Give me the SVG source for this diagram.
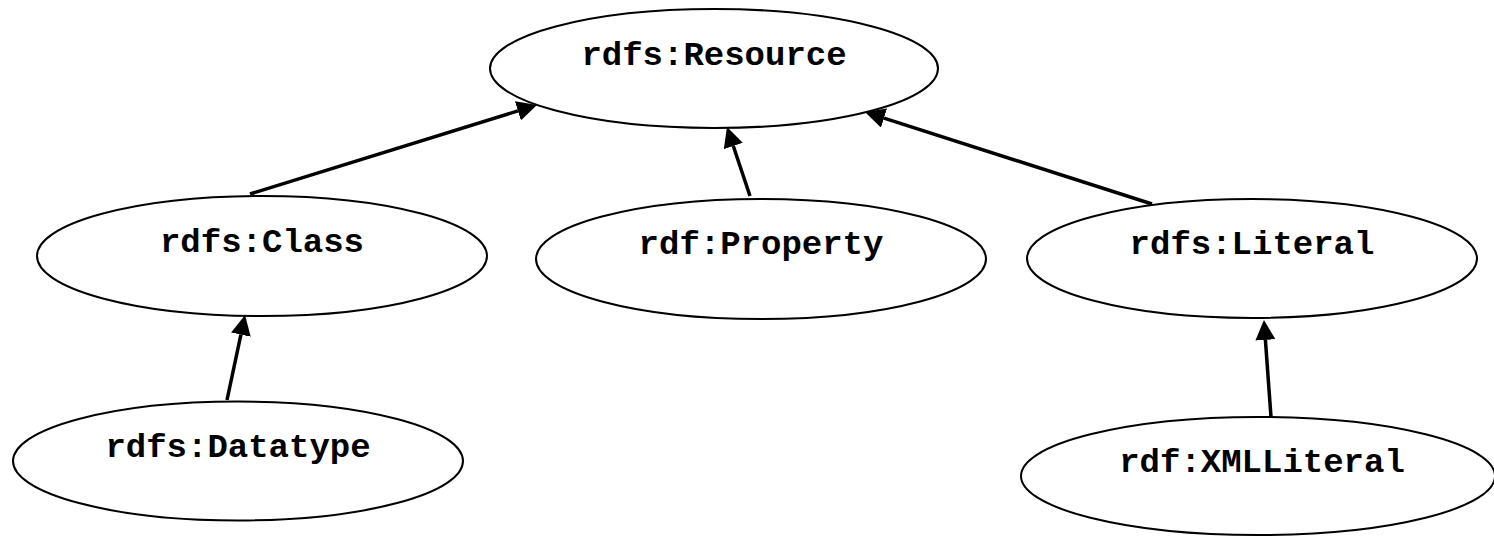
<svg xmlns="http://www.w3.org/2000/svg" width="1494" height="536" viewBox="0 0 1494 536">
<style>
.node ellipse{fill:#fff;stroke:#000;stroke-width:2}
.node text{font-family:"Courier New","Nimbus Mono PS","FreeMono","Liberation Mono",monospace;font-weight:bold;font-size:34px;text-anchor:middle;fill:#000}
.edge{stroke:#000;stroke-width:3.5;fill:none;marker-end:url(#arrow)}
</style>
<defs>
<marker id="arrow" markerUnits="userSpaceOnUse" markerWidth="20" markerHeight="20" refX="0" refY="10" orient="auto" viewBox="0 0 20 20">
<path d="M0,0 L20,10 L0,20 z" fill="#000"/>
</marker>
</defs>
<rect width="1494" height="536" fill="#fff"/>
<g id="connectors">
<path class="edge" d="M250,194 L517.9,110.9"/>
<path class="edge" d="M750,196 L733.3,146"/>
<path class="edge" d="M1152,204 L884,118.1"/>
<path class="edge" d="M227,400 L240.9,334.6"/>
<path class="edge" d="M1271,417 L1265.4,339.9"/>
</g>
<g id="resource" class="node"><ellipse cx="714" cy="68.5" rx="224" ry="59.5"/><text x="714" y="65">rdfs:Resource</text></g>
<g id="class" class="node"><ellipse cx="262" cy="256" rx="225" ry="60"/><text x="262" y="252">rdfs:Class</text></g>
<g id="property" class="node"><ellipse cx="761" cy="259" rx="225" ry="60"/><text x="761" y="254">rdf:Property</text></g>
<g id="literal" class="node"><ellipse cx="1252" cy="258.5" rx="225" ry="59.5"/><text x="1252" y="254">rdfs:Literal</text></g>
<g id="datatype" class="node"><ellipse cx="238" cy="461" rx="225" ry="59.5"/><text x="238" y="457">rdfs:Datatype</text></g>
<g id="xmlliteral" class="node"><ellipse cx="1258" cy="476" rx="237" ry="59"/><text x="1262" y="472">rdf:XMLLiteral</text></g>
</svg>
